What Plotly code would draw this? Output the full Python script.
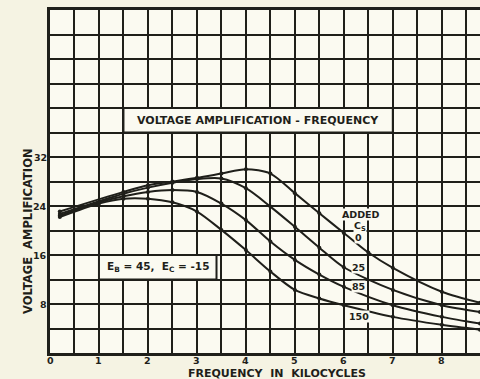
import plotly.graph_objects as go

# ---- data ----
freq_0 = [0.2, 1.5, 2.0, 2.5, 3.0, 3.5, 4.0, 4.5, 5.0, 5.5, 6.0, 6.5, 7.0, 8.0, 8.78]
amp_0 = [23.1, 26.3, 27.4, 28.0, 28.6, 29.3, 30.0, 29.3, 26.1, 22.8, 19.6, 16.4, 13.9, 10.0, 8.2]

freq_25 = [0.2, 1.5, 2.0, 2.5, 3.0, 3.5, 4.0, 4.5, 5.0, 5.5, 6.0, 7.0, 8.0, 8.78]
amp_25 = [22.7, 26.0, 27.0, 27.8, 28.4, 28.5, 26.9, 23.9, 20.6, 17.2, 14.0, 10.3, 7.8, 6.7]

freq_85 = [0.2, 1.0, 1.5, 2.0, 2.5, 3.0, 3.5, 4.0, 4.5, 5.0, 5.5, 6.0, 7.0, 8.0, 8.78]
amp_85 = [22.4, 24.6, 25.6, 26.3, 26.6, 26.3, 24.4, 21.7, 18.2, 15.2, 12.8, 10.8, 7.8, 5.9, 4.8]

freq_150 = [0.2, 1.0, 1.5, 2.0, 2.5, 3.0, 3.5, 4.0, 4.5, 5.0, 5.5, 6.0, 7.0, 8.0, 8.78]
amp_150 = [22.2, 24.4, 25.2, 25.2, 24.6, 23.1, 20.1, 16.8, 13.3, 10.3, 8.9, 7.8, 5.9, 4.6, 3.8]

series = [
    ("0", freq_0, amp_0),
    ("25", freq_25, amp_25),
    ("85", freq_85, amp_85),
    ("150", freq_150, amp_150),
]

x_ticks = [0, 1, 2, 3, 4, 5, 6, 7, 8]
y_ticks = [8, 16, 24, 32]

INK = "#1f1f1a"
PAPER = "#f5f3e3"
PLOT = "#fbfaf1"
FONT = dict(family="DejaVu Sans", size=10, color=INK, weight="bold")

fig = go.Figure()
for name, xs, ys in series:
    fig.add_trace(go.Scatter(
        x=xs, y=ys, mode="lines+markers", name=name,
        line=dict(color=INK, width=2, shape="spline", smoothing=0.8),
        marker=dict(color=INK, size=4),
        showlegend=False, cliponaxis=True, hoverinfo="skip",
    ))

fig.update_layout(
    width=480, height=379,
    margin=dict(l=50, r=0, t=10, b=26),
    paper_bgcolor=PAPER, plot_bgcolor=PLOT,
    font=FONT,
    xaxis=dict(
        range=[0, 8.78], tickvals=x_ticks, showticklabels=False,
        showgrid=True, gridcolor=INK, gridwidth=2,
        minor=dict(dtick=0.5, tick0=0, showgrid=True, gridcolor=INK, gridwidth=2),
        showline=True, linecolor=INK, linewidth=3, mirror=True,
        zeroline=False, ticks="",
    ),
    yaxis=dict(
        range=[0, 56], tickvals=y_ticks, showticklabels=False,
        showgrid=True, gridcolor=INK, gridwidth=2,
        minor=dict(dtick=4, tick0=0, showgrid=True, gridcolor=INK, gridwidth=2),
        showline=True, linecolor=INK, linewidth=3,
        zeroline=False, ticks="",
    ),
)

# tick labels placed close to the axes (plot area 430 x 343 px at 50,10)
pw, ph = 430.0, 343.0
for v in x_ticks:
    fig.add_annotation(x=v, xref="x", y=(353 - 361) / ph, yref="paper",
                       xanchor="center", yanchor="middle", showarrow=False,
                       text=str(v), font=dict(FONT, size=9.5))
for v in y_ticks:
    fig.add_annotation(x=-1 / pw, xref="paper", y=v, yref="y",
                       xanchor="right", yanchor="middle", showarrow=False,
                       text=str(v), font=dict(FONT, size=9.5))

# boxed labels
fig.add_shape(type="rect", xref="x", yref="y", x0=1.5, x1=7, y0=36, y1=40,
              fillcolor=PLOT, line=dict(color=INK, width=2), layer="between")
fig.add_shape(type="rect", xref="x", yref="y", x0=1, x1=3.4, y0=12, y1=16,
              fillcolor=PLOT, line=dict(color=INK, width=2), layer="between")

fig.add_annotation(x=4.25, y=38, xref="x", yref="y", showarrow=False,
                   text="VOLTAGE AMPLIFICATION - FREQUENCY", font=dict(FONT, size=11))
fig.add_annotation(x=2.2, y=14, xref="x", yref="y", showarrow=False,
                   text="E<sub>B</sub> = 45,  E<sub>C</sub> = -15", font=dict(FONT, size=10.5))

# curve labels
for txt, xv, yv in [("ADDED", 6.36, 22.6), ("C<sub>S</sub>", 6.33, 20.7),
                    ("0", 6.29, 18.9), ("25", 6.29, 14.0),
                    ("85", 6.29, 10.8), ("150", 6.31, 5.9)]:
    fig.add_annotation(x=xv, y=yv, xref="x", yref="y", showarrow=False,
                       text=txt, font=dict(FONT, size=9.5), bgcolor=PLOT, borderpad=0)

# axis titles
fig.add_annotation(x=(28 - 50) / pw, y=(353 - 231) / ph, xref="paper", yref="paper",
                   xanchor="center", yanchor="middle", showarrow=False,
                   text="VOLTAGE  AMPLIFICATION", textangle=-90, font=dict(FONT, size=11.5))
fig.add_annotation(x=(277 - 50) / pw, y=(353 - 373) / ph, xref="paper", yref="paper",
                   xanchor="center", yanchor="middle", showarrow=False,
                   text="FREQUENCY  IN  KILOCYCLES", font=dict(FONT, size=11))

fig.write_html("out.html", config={"displayModeBar": False},
               post_script="document.body.style.margin='0';")
